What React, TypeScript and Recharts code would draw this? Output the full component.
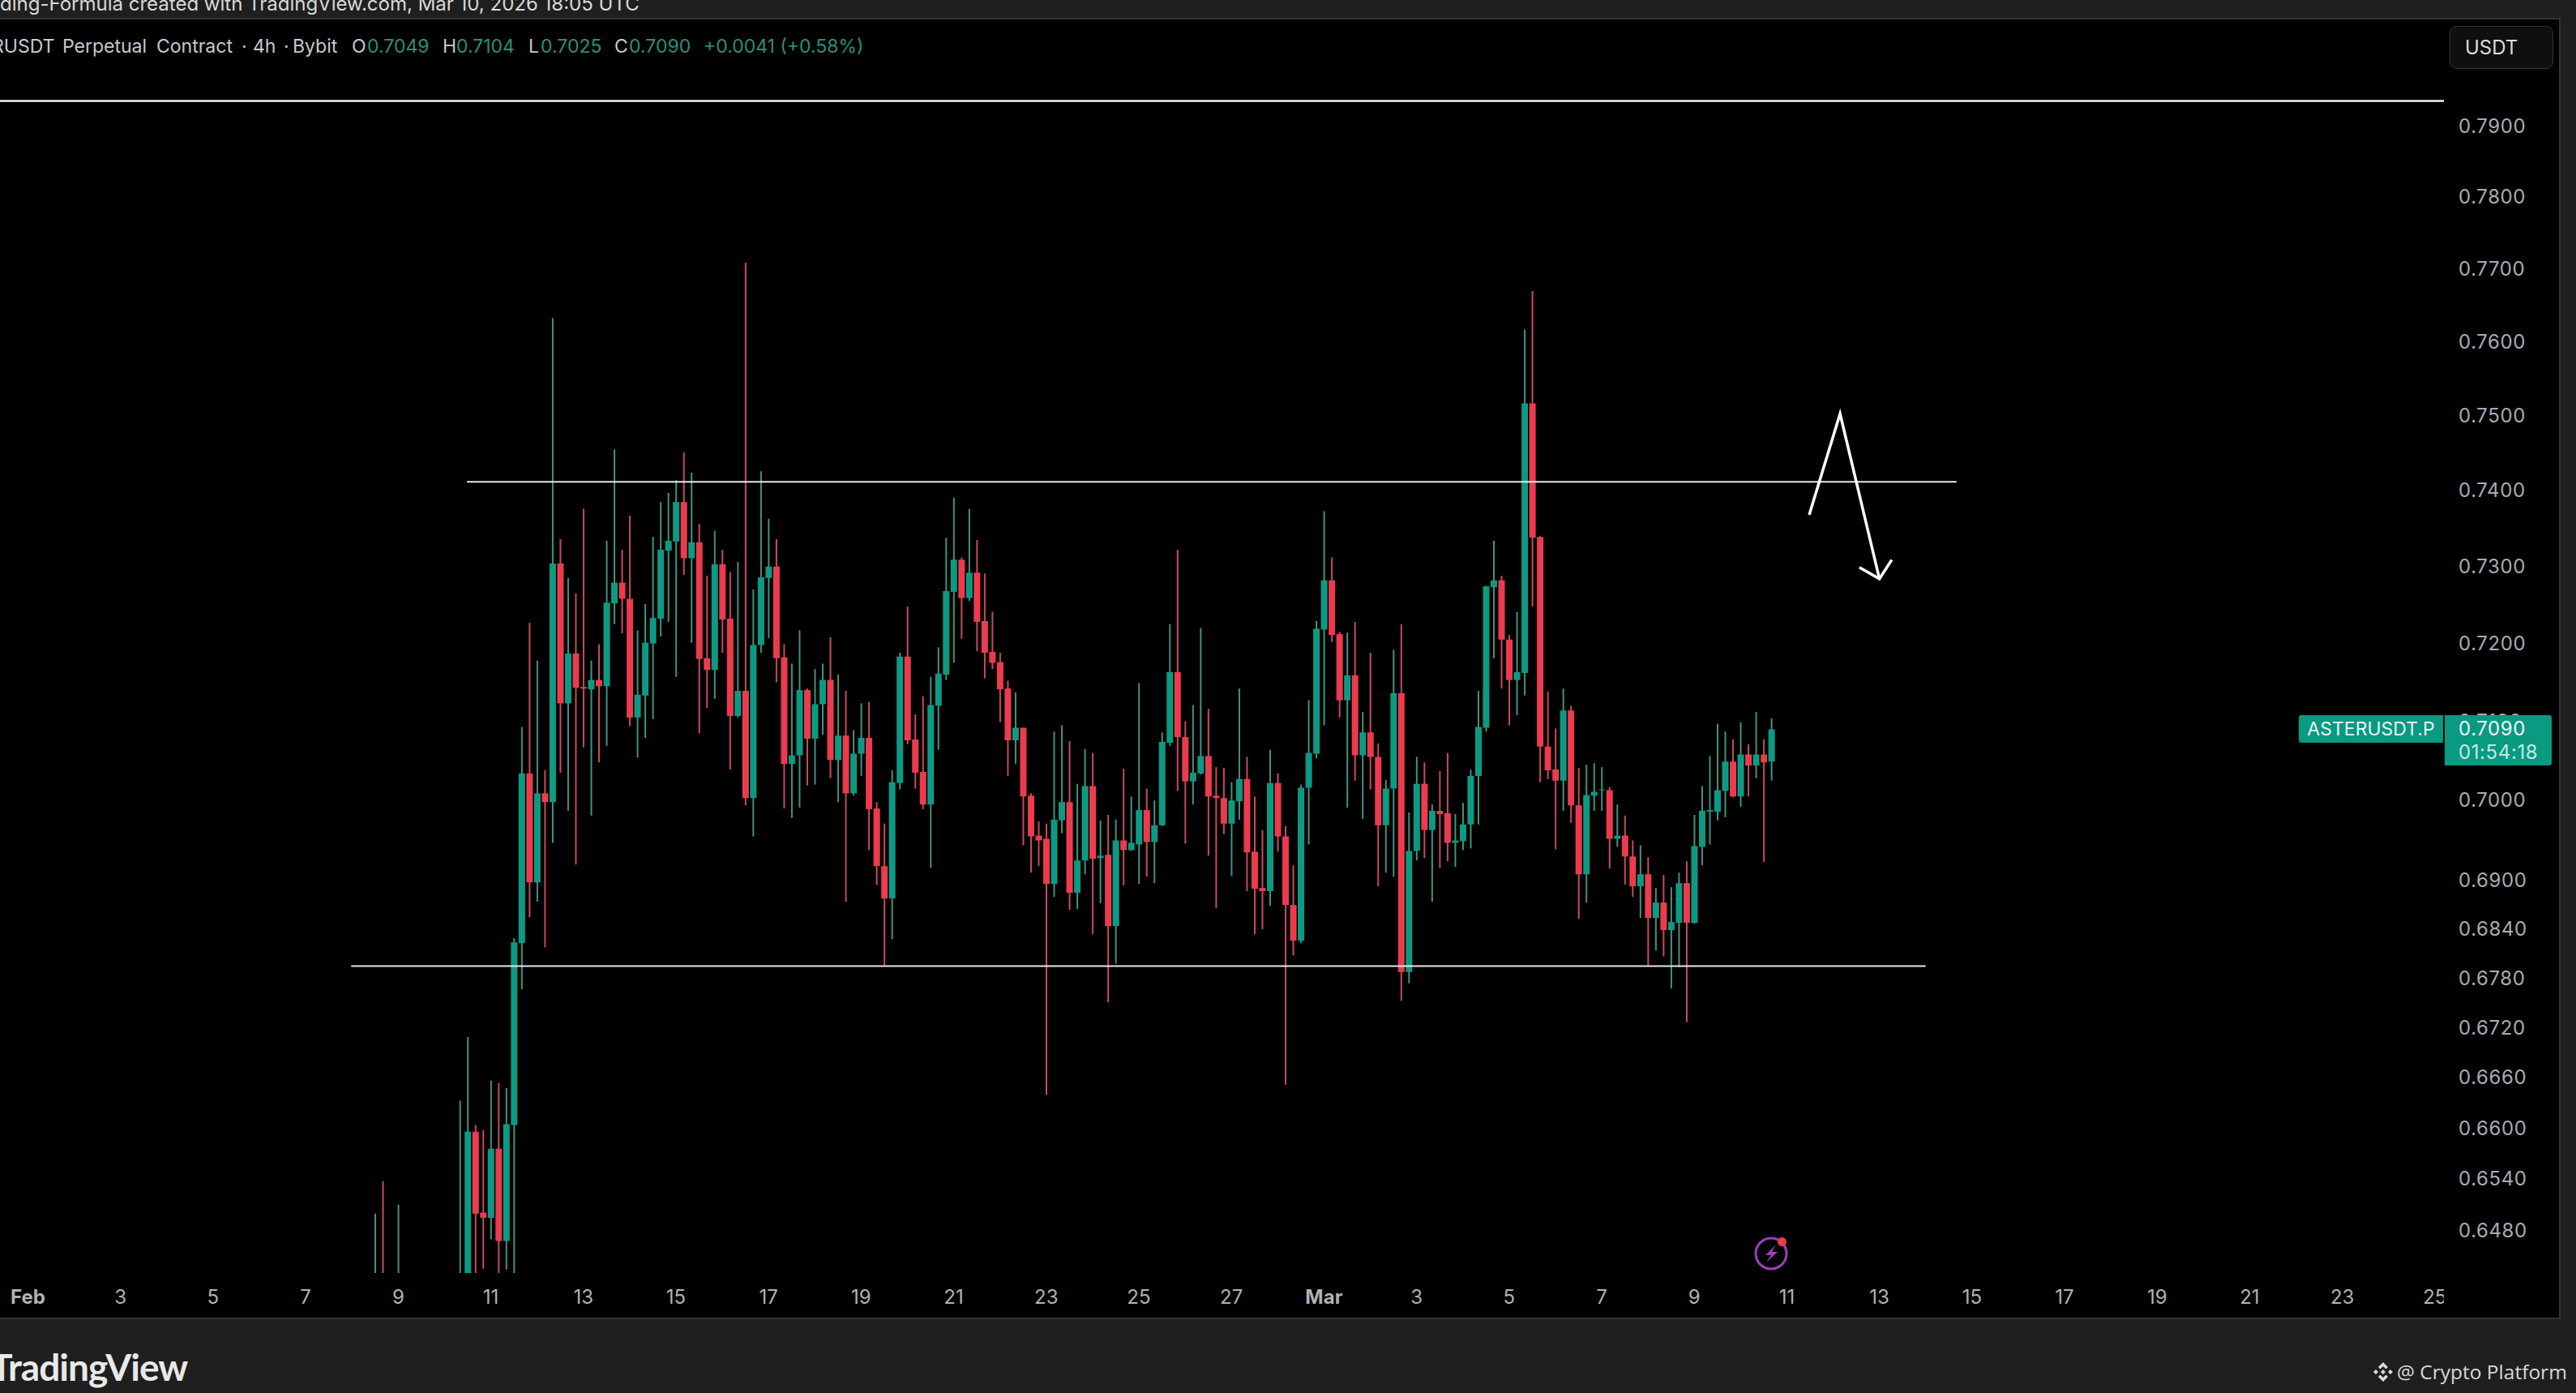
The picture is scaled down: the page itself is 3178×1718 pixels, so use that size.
import {
  ComposedChart,
  Bar,
  Cell,
  Line,
  XAxis,
  YAxis,
  ReferenceLine,
} from 'recharts'

// 4h bars counted from Feb 1 00:00, bars hidden below the pane are left out
const bars = [
  45, 46, 48, 56, 57, 58, 59, 60, 61, 62, 63, 64, 65, 66, 67, 68, 69, 70, 71, 72, 73, 74, 75, 76, 77, 78, 79, 80, 81, 82, 83, 84, 85, 86, 87, 88, 89, 90, 91, 92,
  93, 94, 95, 96, 97, 98, 99, 100, 101, 102, 103, 104, 105, 106, 107, 108, 109, 110, 111, 112, 113, 114, 115, 116, 117, 118, 119, 120, 121, 122, 123, 124, 125, 126, 127, 128, 129, 130, 131, 132,
  133, 134, 135, 136, 137, 138, 139, 140, 141, 142, 143, 144, 145, 146, 147, 148, 149, 150, 151, 152, 153, 154, 155, 156, 157, 158, 159, 160, 161, 162, 163, 164, 165, 166, 167, 168, 169, 170, 171, 172,
  173, 174, 175, 176, 177, 178, 179, 180, 181, 182, 183, 184, 185, 186, 187, 188, 189, 190, 191, 192, 193, 194, 195, 196, 197, 198, 199, 200, 201, 202, 203, 204, 205, 206, 207, 208, 209, 210, 211, 212,
  213, 214, 215, 216, 217, 218, 219, 220, 221, 222, 223, 224, 225, 226,
]
const opens = [
  0.6398, 0.641, 0.64, 0.6395, 0.641, 0.6596, 0.6501, 0.6495, 0.6576, 0.6468, 0.6604, 0.6823, 0.7034, 0.6898, 0.7009, 0.6998, 0.7304, 0.7123, 0.7187, 0.7144, 0.7141, 0.7153, 0.7145, 0.7252, 0.7279, 0.7258, 0.7105, 0.7133, 0.72, 0.7232, 0.7321, 0.7333, 0.7385, 0.7311, 0.7332, 0.7181, 0.7166, 0.7303, 0.7232, 0.7107,
  0.7139, 0.7003, 0.7198, 0.7285, 0.73, 0.7182, 0.7046, 0.7057, 0.714, 0.7078, 0.7122, 0.7153, 0.7051, 0.7082, 0.7009, 0.7059, 0.7079, 0.699, 0.6918, 0.6878, 0.7022, 0.7183, 0.7077, 0.7036, 0.6995, 0.712, 0.716, 0.7267, 0.7309, 0.7259, 0.7292, 0.7229, 0.7189, 0.7176, 0.7142, 0.7076, 0.7092, 0.7006, 0.6956, 0.6952,
  0.6896, 0.6975, 0.6998, 0.6885, 0.6925, 0.7018, 0.6928, 0.6932, 0.6844, 0.695, 0.6938, 0.6945, 0.6988, 0.6948, 0.6969, 0.7073, 0.7163, 0.708, 0.7024, 0.7034, 0.7056, 0.7006, 0.7003, 0.6971, 0.6999, 0.7027, 0.6936, 0.6891, 0.6887, 0.7022, 0.6955, 0.687, 0.6826, 0.7016, 0.7059, 0.7218, 0.7282, 0.7212, 0.7127, 0.7159,
  0.7057, 0.7086, 0.7055, 0.6969, 0.7015, 0.7136, 0.6788, 0.6937, 0.7021, 0.6963, 0.6987, 0.6984, 0.6947, 0.6949, 0.697, 0.7031, 0.7092, 0.7273, 0.7282, 0.7205, 0.7153, 0.7162, 0.7517, 0.7339, 0.7068, 0.7039, 0.7025, 0.7114, 0.6994, 0.6908, 0.7006, 0.7013, 0.7013, 0.6952, 0.6956, 0.693, 0.6893, 0.6908, 0.6854, 0.6873,
  0.6839, 0.6848, 0.6897, 0.6848, 0.6942, 0.6986, 0.6986, 0.7012, 0.7049, 0.7005, 0.7058, 0.7044, 0.7058, 0.7049,
]
const highs = [
  0.65, 0.6538, 0.651, 0.6633, 0.6709, 0.6604, 0.6598, 0.6657, 0.6654, 0.6648, 0.6829, 0.7093, 0.7227, 0.7178, 0.7038, 0.7633, 0.7336, 0.7285, 0.7265, 0.7376, 0.7178, 0.7199, 0.7334, 0.7455, 0.7322, 0.7367, 0.7217, 0.7251, 0.7339, 0.7385, 0.7397, 0.7414, 0.7451, 0.7424, 0.7356, 0.7288, 0.7347, 0.7322, 0.7293, 0.7306,
  0.7709, 0.727, 0.7426, 0.7363, 0.7336, 0.7199, 0.7174, 0.7217, 0.7142, 0.7167, 0.7174, 0.7208, 0.716, 0.7139, 0.7089, 0.7123, 0.7125, 0.6998, 0.6971, 0.7038, 0.7188, 0.7248, 0.7109, 0.7132, 0.7157, 0.7195, 0.7338, 0.7391, 0.7312, 0.7376, 0.7335, 0.7291, 0.7241, 0.7188, 0.7152, 0.7137, 0.7092, 0.7009, 0.6974, 0.6971,
  0.7087, 0.7095, 0.7075, 0.7021, 0.7065, 0.706, 0.6975, 0.6982, 0.6976, 0.704, 0.7005, 0.7149, 0.7015, 0.7, 0.7086, 0.7225, 0.7322, 0.71, 0.7121, 0.722, 0.7116, 0.7042, 0.7041, 0.7023, 0.7142, 0.7055, 0.7005, 0.6963, 0.7064, 0.7034, 0.6968, 0.6919, 0.702, 0.7127, 0.7229, 0.7373, 0.7312, 0.7215, 0.7214, 0.7228,
  0.7112, 0.7188, 0.7072, 0.7026, 0.7192, 0.7225, 0.6985, 0.7055, 0.7048, 0.6995, 0.7037, 0.706, 0.6983, 0.6997, 0.7039, 0.7139, 0.7275, 0.7334, 0.7288, 0.7211, 0.7241, 0.7617, 0.767, 0.734, 0.7138, 0.7091, 0.7142, 0.712, 0.7041, 0.7045, 0.7047, 0.7042, 0.7017, 0.6995, 0.6981, 0.695, 0.6944, 0.6929, 0.6891, 0.6907,
  0.6892, 0.691, 0.6924, 0.6982, 0.7018, 0.7056, 0.7097, 0.7087, 0.7077, 0.7099, 0.7071, 0.7112, 0.7077, 0.7104,
]
const lows = [
  0.639, 0.639, 0.639, 0.638, 0.639, 0.64, 0.6436, 0.647, 0.641, 0.6435, 0.641, 0.6767, 0.6855, 0.6874, 0.6818, 0.6947, 0.7035, 0.6987, 0.692, 0.7067, 0.6981, 0.7048, 0.7069, 0.7225, 0.7213, 0.7094, 0.7054, 0.7079, 0.7103, 0.7209, 0.7228, 0.7157, 0.7289, 0.7201, 0.7085, 0.7117, 0.7129, 0.7188, 0.7039, 0.7105,
  0.6994, 0.6955, 0.7188, 0.7207, 0.715, 0.699, 0.6978, 0.6991, 0.7019, 0.702, 0.7083, 0.7028, 0.6998, 0.6874, 0.7006, 0.7031, 0.6938, 0.6895, 0.6796, 0.6828, 0.7014, 0.7071, 0.7015, 0.6989, 0.6916, 0.7064, 0.7153, 0.7175, 0.7206, 0.7255, 0.719, 0.7155, 0.7167, 0.7099, 0.7031, 0.7046, 0.6944, 0.691, 0.6918, 0.664,
  0.688, 0.6959, 0.6864, 0.6865, 0.6908, 0.6834, 0.6872, 0.6751, 0.6798, 0.6894, 0.6937, 0.6896, 0.6905, 0.6897, 0.6968, 0.7069, 0.7012, 0.6946, 0.6995, 0.7033, 0.6931, 0.6866, 0.6958, 0.6906, 0.6976, 0.6887, 0.6834, 0.684, 0.6869, 0.6936, 0.6652, 0.6808, 0.6823, 0.6945, 0.7053, 0.7095, 0.7202, 0.7105, 0.6991, 0.7025,
  0.6977, 0.7014, 0.6893, 0.691, 0.6905, 0.6753, 0.6774, 0.6925, 0.6928, 0.6874, 0.6916, 0.6924, 0.6917, 0.6938, 0.694, 0.697, 0.7087, 0.7181, 0.7142, 0.7095, 0.7108, 0.7133, 0.7248, 0.7023, 0.7027, 0.6939, 0.6987, 0.6972, 0.6853, 0.6873, 0.6987, 0.6987, 0.6915, 0.6942, 0.6895, 0.688, 0.6854, 0.6796, 0.6814, 0.6807,
  0.6768, 0.6794, 0.6727, 0.6847, 0.6919, 0.6945, 0.6975, 0.6979, 0.7004, 0.6992, 0.7005, 0.7028, 0.6923, 0.7025,
]
const closes = [
  0.641, 0.64, 0.6415, 0.6415, 0.6596, 0.65, 0.6495, 0.6576, 0.6468, 0.6605, 0.6824, 0.7034, 0.6898, 0.7009, 0.6998, 0.7304, 0.7123, 0.7187, 0.7143, 0.7142, 0.7153, 0.7145, 0.7253, 0.7279, 0.7258, 0.7105, 0.7134, 0.7201, 0.7233, 0.7322, 0.7334, 0.7385, 0.7311, 0.7332, 0.718, 0.7166, 0.7303, 0.7231, 0.7107, 0.7139,
  0.7003, 0.7198, 0.7286, 0.73, 0.7181, 0.7046, 0.7057, 0.714, 0.7078, 0.7122, 0.7153, 0.7051, 0.7082, 0.7009, 0.7059, 0.7079, 0.6989, 0.6918, 0.6878, 0.7023, 0.7183, 0.7076, 0.7035, 0.6995, 0.7121, 0.7161, 0.7268, 0.7309, 0.7259, 0.7292, 0.7228, 0.7188, 0.7175, 0.7141, 0.7076, 0.7092, 0.7005, 0.6955, 0.695, 0.6896,
  0.6976, 0.6998, 0.6885, 0.6925, 0.7018, 0.6927, 0.6931, 0.6844, 0.695, 0.6938, 0.6947, 0.6988, 0.6948, 0.6969, 0.7074, 0.7163, 0.708, 0.7024, 0.7035, 0.7056, 0.7005, 0.7003, 0.6971, 0.7, 0.7027, 0.6935, 0.689, 0.6887, 0.7022, 0.6955, 0.687, 0.6826, 0.7016, 0.706, 0.7219, 0.7282, 0.7211, 0.7127, 0.7159, 0.7057,
  0.7086, 0.7055, 0.6969, 0.7015, 0.7136, 0.6788, 0.6937, 0.7021, 0.6963, 0.6987, 0.6983, 0.6947, 0.695, 0.697, 0.7031, 0.7093, 0.7274, 0.7282, 0.7205, 0.7153, 0.7163, 0.7517, 0.7338, 0.7068, 0.7038, 0.7025, 0.7114, 0.6994, 0.6908, 0.7007, 0.7011, 0.7014, 0.6952, 0.6956, 0.693, 0.6893, 0.6908, 0.6854, 0.6873, 0.6839,
  0.6849, 0.6897, 0.6848, 0.6943, 0.6987, 0.6988, 0.7013, 0.7049, 0.7005, 0.7058, 0.7044, 0.7058, 0.7048, 0.709,
]

const priceTicks = [0.79, 0.78, 0.77, 0.76, 0.75, 0.74, 0.73, 0.72, 0.71, 0.7, 0.69, 0.684, 0.678, 0.672, 0.666, 0.66, 0.654, 0.648]
const timeTicks = [0, 12, 24, 36, 48, 60, 72, 84, 96, 108, 120, 132, 144, 156, 168, 180, 192, 204, 216, 228, 240, 252, 264, 276, 288, 300, 312]
const timeLabels = ['Feb', '3', '5', '7', '9', '11', '13', '15', '17', '19', '21', '23', '25', '27', 'Mar', '3', '5', '7', '9', '11', '13', '15', '17', '19', '21', '23', '25']

const legendItems = [
  { text: 'RUSDT', x: -10, color: '#c6c9d0' },
  { text: 'Perpetual', x: 77, color: '#c6c9d0' },
  { text: 'Contract', x: 193, color: '#c6c9d0' },
  { text: '·', x: 298, color: '#c6c9d0' },
  { text: '4h', x: 312, color: '#c6c9d0' },
  { text: '·', x: 350, color: '#c6c9d0' },
  { text: 'Bybit', x: 361, color: '#c6c9d0' },
  { text: 'O', x: 434, color: '#c6c9d0' },
  { text: '0.7049', x: 453, color: '#2b8f7b' },
  { text: 'H', x: 546, color: '#c6c9d0' },
  { text: '0.7104', x: 563, color: '#2b8f7b' },
  { text: 'L', x: 652, color: '#c6c9d0' },
  { text: '0.7025', x: 667, color: '#2b8f7b' },
  { text: 'C', x: 758, color: '#c6c9d0' },
  { text: '0.7090', x: 776, color: '#2b8f7b' },
  { text: '+0.0041 (+0.58%)', x: 868, color: '#2b8f7b' },
]

// drawn levels and the hand-drawn arrow, in bar / price units
const topLevel = 0.7936
const upperLevel = 0.7412
const lowerLevel = 0.6795
const arrowBars = [230.9, 234.9, 240]
const arrowPrices = [0.7368, 0.7503, 0.7284]
const headBars = [237.4, 240, 241.6]
const headPrices = [0.7299, 0.7284, 0.7309]

const UP = '#0e9a82'
const DOWN = '#ec3b4e'
const UP_WICK = '#45917f'
const DOWN_WICK = '#c64c5c'

const candles = bars.map((k, i) => ({
  k,
  up: closes[i] >= opens[i],
  wick: [lows[i], highs[i]],
  body: [Math.min(opens[i], closes[i]), Math.max(opens[i], closes[i])],
}))
const arrow = arrowBars.map((k, i) => ({ k, p: arrowPrices[i] }))
const arrowHead = headBars.map((k, i) => ({ k, p: headPrices[i] }))

const font = 'Inter, sans-serif'

function PriceTick({ x, y, payload }: any) {
  return (
    <text x={x + 10} y={y} dy={8} fontFamily={font} fontSize={24} letterSpacing={0.6} fill="#a9abb2" textAnchor="start">
      {payload.value.toFixed(4)}
    </text>
  )
}

function TimeTick({ x, y, payload }: any) {
  const label = timeLabels[timeTicks.indexOf(payload.value)]
  const month = label === 'Feb' || label === 'Mar'
  const id = `time-${payload.value}`
  return (
    <g>
      {/* the last label is cut by the price scale */}
      <clipPath id={id}>
        <rect x={0} y={y} width={3015} height={55} />
      </clipPath>
      <text x={x} y={y} dy={30} clipPath={`url(#${id})`} fontFamily={font} fontSize={24} fontWeight={month ? 700 : 400} fill="#b0b2b8" textAnchor="middle">
        {label}
      </text>
    </g>
  )
}

export default function App() {
  return (
    <div style={{ position: 'absolute', left: 0, top: 0, width: 3178, height: 1718, background: '#1f1f1f', overflow: 'hidden' }}>
      <div style={{ position: 'absolute', left: 0, top: -10, fontFamily: font, fontSize: 24, color: '#d8d8d8', whiteSpace: 'nowrap' }}>
        ding-Formula created with TradingView.com, Mar 10, 2026 18:05 UTC
      </div>
      <div style={{ position: 'absolute', left: 0, top: 24, width: 3157, height: 1601, background: '#000', boxShadow: '0 0 0 2px #333' }}>
        <ComposedChart width={3157} height={1601} data={candles} margin={{ top: 0, right: 0, bottom: 0, left: 0 }}>
          <XAxis
            dataKey="k"
            type="number"
            domain={[-3.625, 313.17]}
            ticks={timeTicks}
            interval={0}
            height={55}
            axisLine={false}
            tickLine={false}
            tick={<TimeTick />}
            allowDataOverflow
          />
          <XAxis xAxisId="wick" dataKey="k" type="number" domain={[-3.625, 313.17]} hide allowDataOverflow />
          <YAxis
            orientation="right"
            scale="log"
            domain={[0.6431, 0.8053]}
            ticks={priceTicks}
            interval={0}
            width={142}
            axisLine={false}
            tickLine={false}
            tick={<PriceTick />}
            allowDataOverflow
          />
          <Bar xAxisId="wick" dataKey="wick" barSize={2} isAnimationActive={false}>
            {candles.map(c => (
              <Cell key={c.k} fill={c.up ? UP_WICK : DOWN_WICK} />
            ))}
          </Bar>
          <Bar dataKey="body" barSize={8} isAnimationActive={false}>
            {candles.map(c => (
              <Cell key={c.k} fill={c.up ? UP : DOWN} />
            ))}
          </Bar>
          <ReferenceLine segment={[{ x: -3.625, y: topLevel }, { x: 313.17, y: topLevel }]} stroke="#f2f2f2" strokeWidth={2.5} />
          <ReferenceLine segment={[{ x: 56.9, y: upperLevel }, { x: 250, y: upperLevel }]} stroke="#e8e8e8" strokeWidth={2} />
          <ReferenceLine segment={[{ x: 41.9, y: lowerLevel }, { x: 246, y: lowerLevel }]} stroke="#e8e8e8" strokeWidth={2} />
          <Line data={arrow} dataKey="p" stroke="#fff" strokeWidth={3.5} dot={false} isAnimationActive={false} />
          <Line data={arrowHead} dataKey="p" stroke="#fff" strokeWidth={3.5} dot={false} isAnimationActive={false} />
        </ComposedChart>
      </div>

      {legendItems.map(item => (
        <div key={item.text + item.x} style={{ position: 'absolute', left: item.x, top: 43, fontFamily: font, fontSize: 23, color: item.color, whiteSpace: 'nowrap' }}>
          {item.text}
        </div>
      ))}

      <div style={{ position: 'absolute', left: 3022, top: 32, width: 126, height: 51, border: '1.5px solid #333', borderRadius: 9, background: '#0f0f0f', fontFamily: font, fontSize: 24, color: '#dcdcdc', lineHeight: '51px', textIndent: 18 }}>
        USDT
      </div>

      <div style={{ position: 'absolute', left: 2836, top: 882, width: 178, height: 34, borderRadius: '3px 0 0 3px', background: '#0a9981', fontFamily: font, fontSize: 23, color: '#e8f6f3', lineHeight: '34px', textAlign: 'center' }}>
        ASTERUSDT.P
      </div>
      <div style={{ position: 'absolute', left: 3016, top: 882, width: 132, height: 62, borderRadius: '0 3px 3px 0', background: '#0a9981', fontFamily: font, fontSize: 24, letterSpacing: 0.6, color: '#eef8f6', lineHeight: '29px', textIndent: 17 }}>
        <div style={{ marginTop: 2 }}>0.7090</div>
        <div style={{ color: '#c4e8e1' }}>01:54:18</div>
      </div>

      <svg style={{ position: 'absolute', left: 2160, top: 1520 }} width={50} height={50}>
        <circle cx={25} cy={26} r={19} fill="none" stroke="#9c3fbb" strokeWidth={3} />
        <path d="M31 15 L18 28 L25 28 L19 37 L33 24 L26 24 Z" fill="#9c3fbb" />
        <circle cx={38.5} cy={11.5} r={5.5} fill="#ef3b46" />
      </svg>

      <div style={{ position: 'absolute', left: -12, top: 1658, fontFamily: 'Lato, sans-serif', fontWeight: 700, fontSize: 46, color: '#e9e9e9', whiteSpace: 'nowrap', letterSpacing: -1 }}>
        TradingView
      </div>

      <svg style={{ position: 'absolute', left: 2926, top: 1678 }} width={28} height={28}>
        <path d="M14 2 L20 8 L17.5 10.5 L14 7 L10.5 10.5 L8 8 Z M14 26 L8 20 L10.5 17.5 L14 21 L17.5 17.5 L20 20 Z M2 14 L5 11 L8 14 L5 17 Z M20 14 L23 11 L26 14 L23 17 Z M14 11 L17 14 L14 17 L11 14 Z" fill="#dcdcdc" />
      </svg>
      <div style={{ position: 'absolute', left: 2957, top: 1675, fontFamily: '"Open Sans", sans-serif', fontSize: 24.5, color: '#d8d8d8', whiteSpace: 'nowrap' }}>
        @ Crypto Platform
      </div>
    </div>
  )
}
